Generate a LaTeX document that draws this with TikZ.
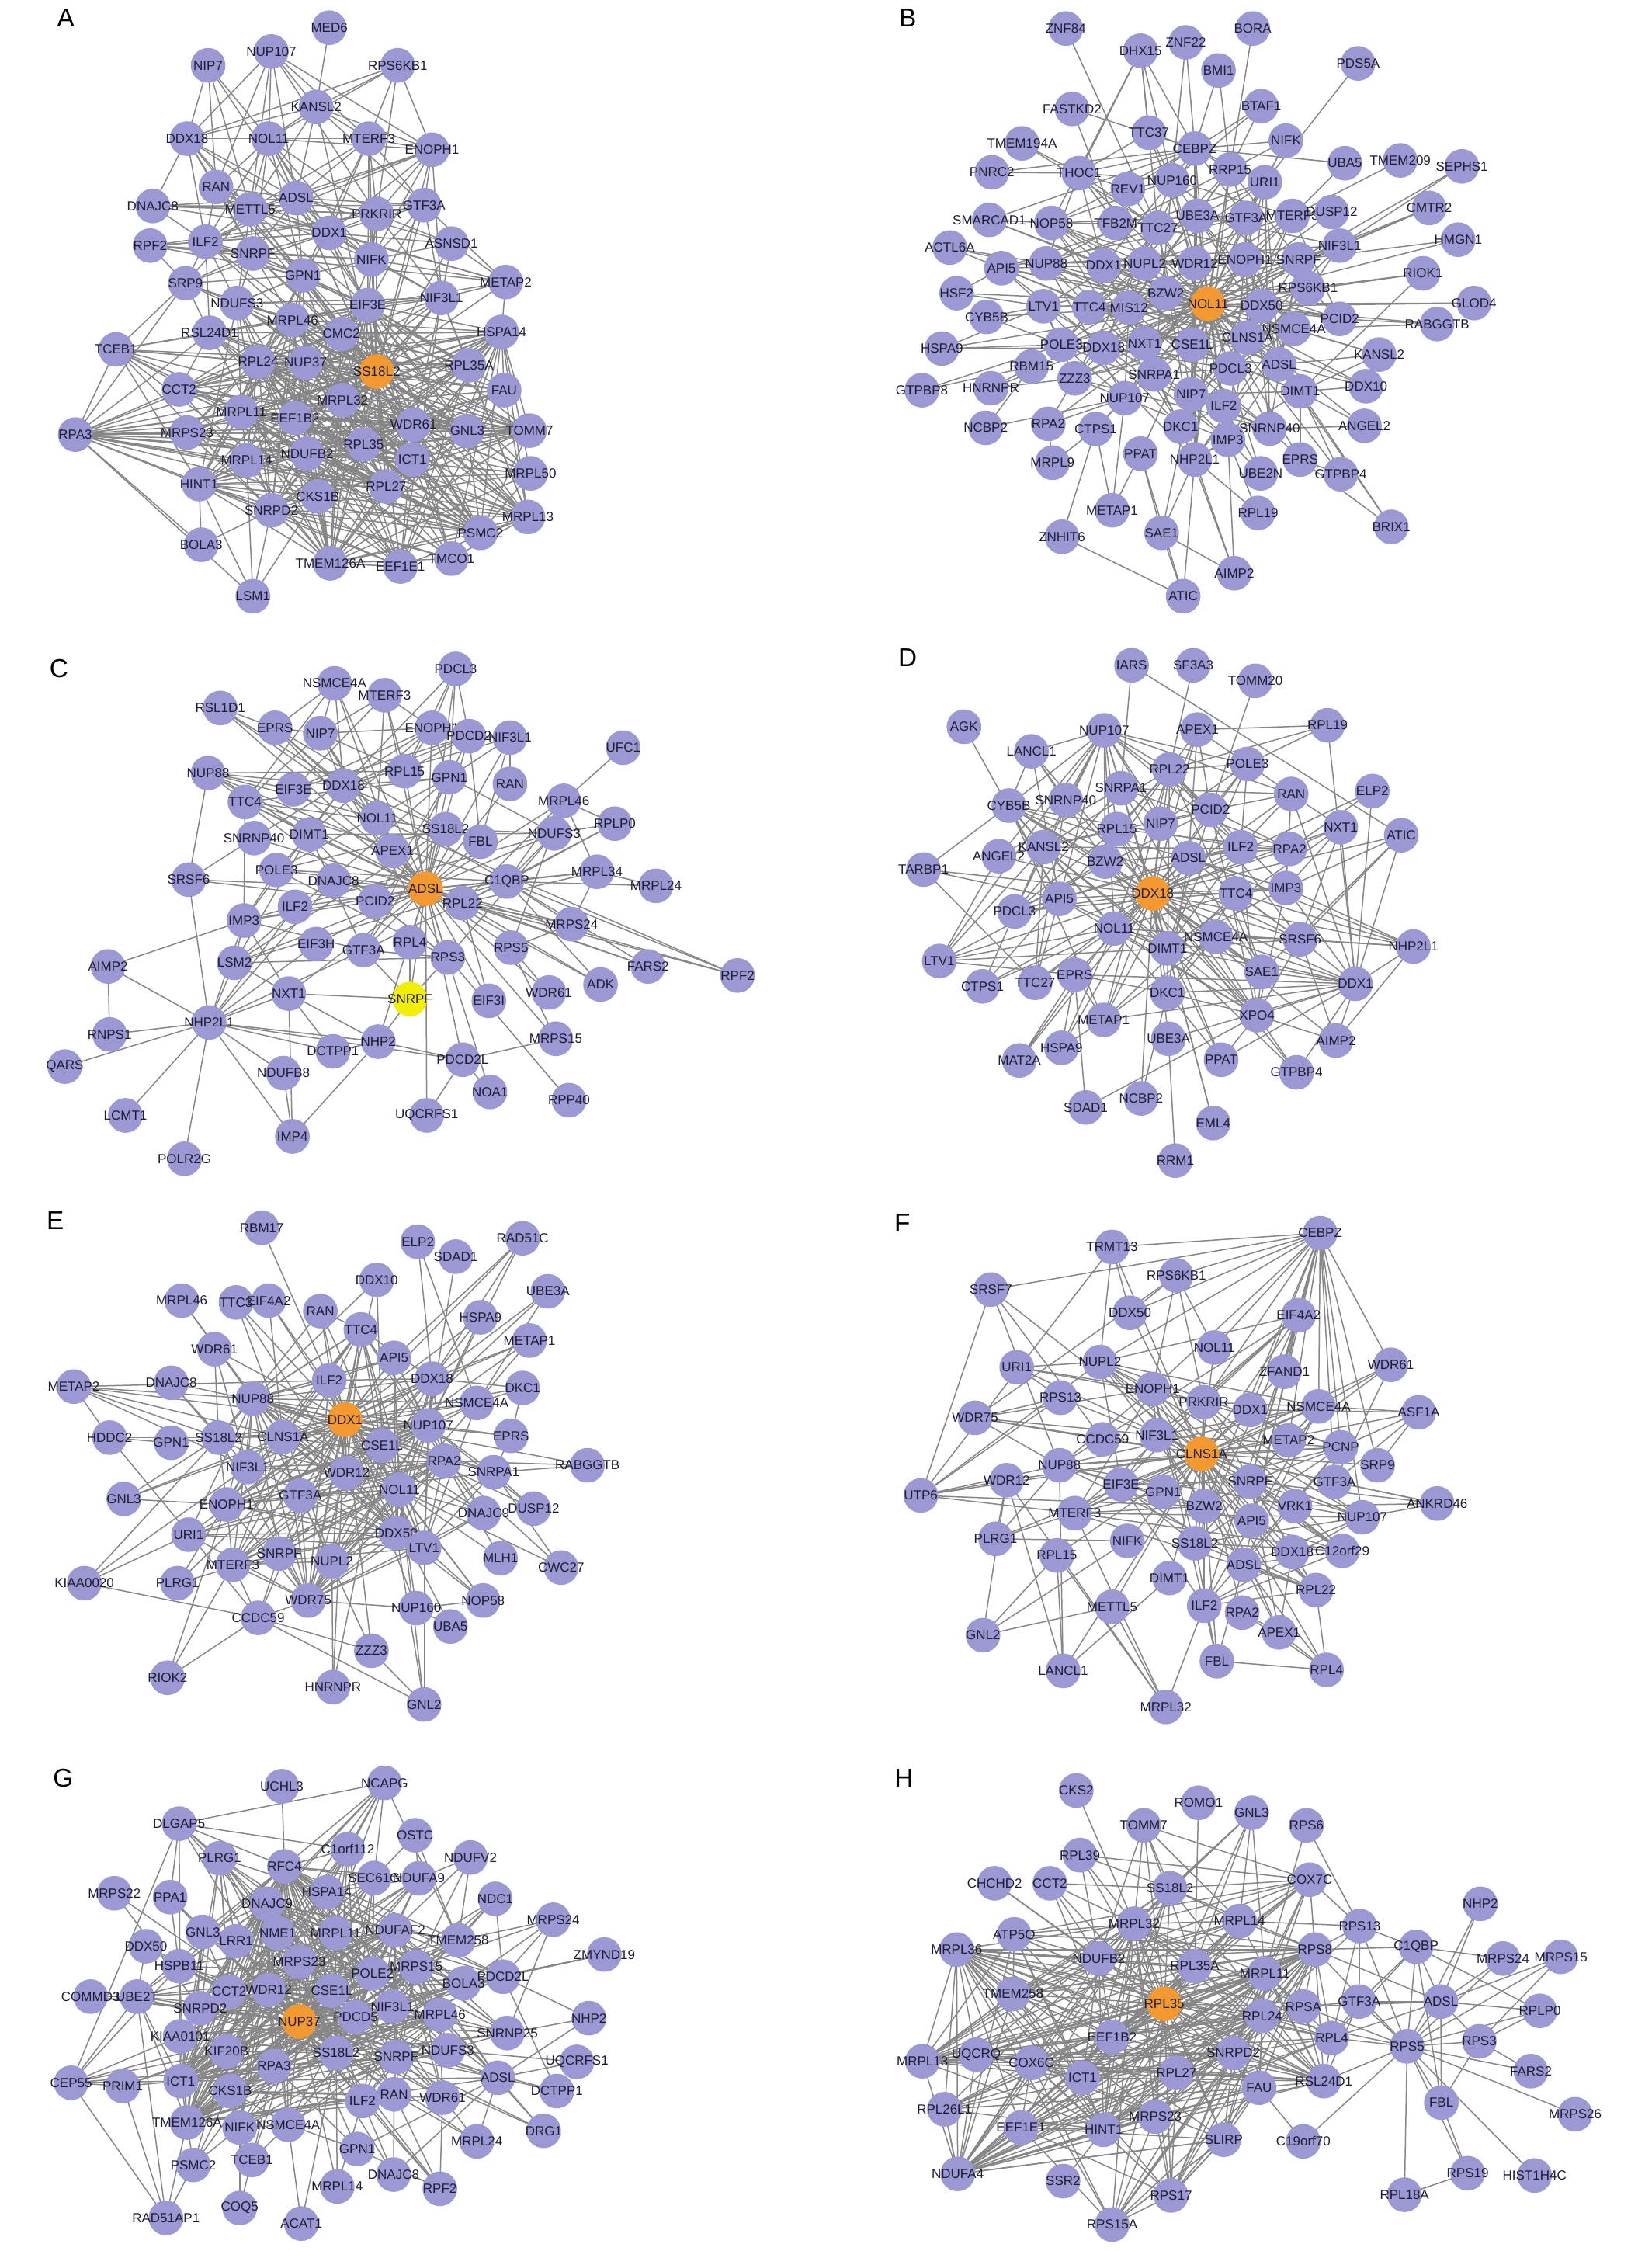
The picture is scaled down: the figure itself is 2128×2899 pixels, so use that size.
\documentclass[tikz,border=0pt]{standalone}
\usepackage{fontspec}
\setmainfont{Liberation Sans}
\definecolor{nodecol}{HTML}{9C98D4}
\definecolor{hubcol}{HTML}{F4992F}
\definecolor{ylw}{HTML}{F2EE05}
\definecolor{edgecol}{HTML}{868686}
\definecolor{txtcol}{HTML}{1E1E32}
\pgfdeclarelayer{bg}
\pgfsetlayers{bg,main}
\tikzset{
 gn/.style={circle, fill=nodecol, minimum size=13.4pt, inner sep=0pt},
 lbl/.style={font=\fontsize{5.1}{5.1}\selectfont, text=txtcol, inner sep=0pt},
 edge/.style={draw=edgecol, line width=0.45pt},
 panel/.style={font=\fontsize{10}{10}\selectfont, inner sep=0pt}
}
\newcommand\N[3][]{\node[gn,#1] (\pfx-#2) at (#3) {}; \node[lbl] at (\pfx-#2.center) {#2};}
\newcommand\E[2]{\edef\elist{#2}\foreach \q in \elist {\draw[edge] (\pfx-#1.center) -- (\pfx-\q.center);}}
\newcommand\M[3]{\edef\mlist{#1}%
 \foreach \ma [count=\mi] in \mlist {%
  \foreach \mb [count=\mj] in \mlist {%
   \ifnum\mj>\mi\relax
    \ifnum\numexpr(\mi*\mj*7+\mi*3+\mj+#3)-((\mi*\mj*7+\mi*3+\mj+#3)/#2)*#2\relax=0
     \draw[edge] (\pfx-\ma.center) -- (\pfx-\mb.center);
    \fi
   \fi}}}
\begin{document}
\begin{tikzpicture}[x=0.3pt,y=-0.3pt]
\begin{pgfonlayer}{bg}
\fill[white] (0,0) rectangle (2128,2899);
\end{pgfonlayer}
\useasboundingbox (0,0) rectangle (2128,2899);

%================ A
\def\pfx{A}
\begin{scope}[shift={(0,0)},xscale=0.6786,yscale=0.5102]
\node[panel] at (125,45) {A};
\N{MED6}{625,70}\N{NUP107}{515,130}\N{NIP7}{395,165}\N{RPS6KB1}{755,165}
\N{KANSL2}{600,270}\N{DDX18}{355,350}\N{NOL11}{510,350}\N{MTERF3}{700,350}
\N{ENOPH1}{820,378}\N{RAN}{410,472}\N{ADSL}{562,500}\N{DNAJC8}{290,520}
\N{METTL5}{475,528}\N{PRKRIR}{715,540}\N{GTF3A}{805,518}\N{DDX1}{625,588}
\N{ILF2}{390,610}\N{RPF2}{285,620}\N{SNRPF}{480,640}\N{ASNSD1}{857,615}
\N{NIFK}{705,655}\N{GPN1}{575,695}\N{SRP9}{352,715}\N{METAP2}{960,712}
\N{NDUFS3}{450,765}\N{EIF3E}{698,770}\N{NIF3L1}{838,752}\N{MRPL46}{555,808}
\N{CMC2}{648,843}\N{RSL24D1}{398,840}\N{HSPA14}{952,838}\N{TCEB1}{220,882}
\N{RPL24}{490,913}\N{NUP37}{580,915}\N{RPL35A}{890,922}
\N{CCT2}{340,983}\N{FAU}{957,985}\N{MRPL32}{650,1010}\N{MRPL11}{458,1040}
\N{EEF1B2}{560,1055}\N{RPA3}{143,1097}\N{MRPS23}{355,1092}\N{WDR61}{785,1072}
\N{GNL3}{887,1088}\N{TOMM7}{1005,1087}\N{RPL35}{690,1122}\N{NDUFB2}{583,1145}
\N{ICT1}{783,1160}\N{MRPL14}{468,1162}\N{MRPL50}{1007,1195}\N{HINT1}{378,1222}
\N{RPL27}{733,1228}\N{CKS1B}{603,1253}\N{SNRPD2}{515,1288}\N{MRPL13}{1002,1305}
\N{PSMC2}{912,1345}\N{BOLA3}{382,1375}\N{TMEM126A}{627,1422}\N{EEF1E1}{760,1430}
\N{TMCO1}{857,1410}\N{LSM1}{480,1505}
\N[fill=hubcol]{SS18L2}{715,938}
\def\coreA{RSL24D1,RPL24,NUP37,CMC2,MRPL46,CCT2,MRPL32,MRPL11,EEF1B2,MRPS23,WDR61,GNL3,RPL35,NDUFB2,ICT1,MRPL14,HINT1,RPL27,CKS1B,SNRPD2,TOMM7,MRPL50,MRPL13,PSMC2,TMCO1,EEF1E1,TMEM126A,FAU,RPL35A,HSPA14,TCEB1,NDUFS3,EIF3E,NIF3L1,GPN1}
\begin{pgfonlayer}{bg}
\E{SS18L2}{\coreA,KANSL2,DDX18,NOL11,MTERF3,ENOPH1,RAN,ADSL,METTL5,PRKRIR,GTF3A,DDX1,ILF2,SNRPF,ASNSD1,NIFK,SRP9,METAP2,RPA3}
\E{RPA3}{TCEB1,SRP9,CCT2,MRPS23,RSL24D1,RPL24,NUP37,MRPL11,EEF1B2,MRPL32,WDR61,GNL3,TOMM7,MRPL50,MRPL13,RPL35,NDUFB2,MRPL14,HINT1,SNRPD2,CKS1B,BOLA3,LSM1,RPL27,ICT1}
\E{MED6}{KANSL2}
\E{NUP107}{KANSL2,DDX18,NOL11,MTERF3,ENOPH1,RAN,ADSL,METTL5,PRKRIR}
\E{NIP7}{DDX18,RAN,NOL11,ADSL,METTL5}
\E{RPS6KB1}{KANSL2,DDX18,ENOPH1,MTERF3,PRKRIR,NOL11}
\E{KANSL2}{DDX18,NOL11,ADSL,MTERF3,ENOPH1,METTL5,GTF3A}
\E{DDX18}{NOL11,MTERF3,RAN,ILF2,DNAJC8,METTL5,ADSL,SNRPF,DDX1}
\E{NOL11}{MTERF3,ENOPH1,ADSL,METTL5,RAN,DDX1,PRKRIR,NIFK,EIF3E,GPN1,SNRPF,ILF2}
\E{MTERF3}{ENOPH1,ADSL,PRKRIR,DDX1,NIFK,EIF3E,GTF3A,METTL5,GPN1}
\E{ENOPH1}{GTF3A,PRKRIR,ADSL,DDX1,NIFK,NIF3L1,METTL5,ILF2}
\E{RAN}{ILF2,METTL5,ADSL,DDX1,SNRPF,GPN1}
\E{DNAJC8}{METTL5,ILF2,ADSL,DDX1,PRKRIR,GTF3A}
\E{ADSL}{METTL5,DDX1,PRKRIR,GTF3A,ILF2,SNRPF,GPN1,NIFK,EIF3E,ASNSD1}
\E{METTL5}{ILF2,SNRPF,DDX1,GPN1,PRKRIR,NIFK,EIF3E,SRP9,NDUFS3,METAP2}
\E{PRKRIR}{GTF3A,DDX1,NIFK,ASNSD1,EIF3E,NIF3L1,ILF2,RPF2}
\E{GTF3A}{DDX1,NIFK,NIF3L1,EIF3E,METAP2}
\E{DDX1}{ILF2,SNRPF,GPN1,NIFK,EIF3E,NIF3L1,METAP2,ASNSD1,RPF2,SRP9}
\E{ILF2}{RPF2,SNRPF,SRP9,GPN1,NDUFS3,MRPL46,EIF3E,RSL24D1}
\E{RPF2}{SRP9,SNRPF,GPN1,METAP2,NIFK}
\E{SNRPF}{GPN1,SRP9,NDUFS3,MRPL46,EIF3E,CMC2,NIFK}
\E{ASNSD1}{NIFK,METAP2,NIF3L1}
\E{NIFK}{GPN1,EIF3E,NIF3L1,METAP2,CMC2}
\E{GPN1}{EIF3E,NDUFS3,MRPL46,CMC2,SRP9}
\E{SRP9}{NDUFS3,RSL24D1,TCEB1,MRPL46}
\E{METAP2}{NIF3L1,EIF3E,HSPA14}
\E{EIF3E}{NIF3L1,CMC2,MRPL46}
\E{BOLA3}{HINT1,SNRPD2}
\E{LSM1}{HINT1,SNRPD2,MRPL14,CKS1B}
\M{\coreA}{3}{0}
\end{pgfonlayer}
\end{scope}

%================ B
\def\pfx{B}
\begin{scope}[shift={(1064,0)},xscale=0.6786,yscale=0.5102]
\node[panel] at (155,45) {B};
\N{ZNF84}{455,72}\N{BORA}{810,72}\N{DHX15}{597,128}\N{ZNF22}{683,107}
\N{BMI1}{745,178}\N{PDS5A}{1010,160}\N{FASTKD2}{467,275}\N{BTAF1}{826,268}
\N{TTC37}{613,335}\N{TMEM194A}{372,362}\N{NIFK}{873,355}\N{CEBPZ}{700,375}
\N{UBA5}{985,412}\N{TMEM209}{1090,405}\N{SEPHS1}{1207,420}\N{PNRC2}{315,435}
\N{THOC1}{480,437}\N{RRP15}{767,428}\N{URI1}{833,460}\N{NUP160}{657,455}
\N{REV1}{573,477}\N{SMARCAD1}{310,555}\N{NOP58}{428,563}\N{TFB2M}{550,563}
\N{TTC27}{630,575}\N{UBE3A}{705,545}\N{GTF3A}{797,550}\N{MTERF3}{885,545}
\N{DUSP12}{960,535}\N{CMTR2}{1145,525}\N{NIF3L1}{975,620}\N{HMGN1}{1200,605}
\N{ACTL6A}{235,625}\N{API5}{333,677}\N{NUP88}{418,665}\N{DDX1}{527,670}
\N{NUPL2}{605,665}\N{WDR12}{700,665}\N{ENOPH1}{795,655}\N{SNRPF}{897,655}
\N{RIOK1}{1133,690}\N{HSF2}{248,740}\N{RPS6KB1}{915,727}\N{BZW2}{645,740}
\N{LTV1}{413,773}\N{TTC4}{500,775}\N{MIS12}{575,777}
\N{DDX50}{827,772}\N{GLOD4}{1230,765}\N{CYB5B}{305,800}\N{PCID2}{975,805}
\N{RABGGTB}{1160,818}\N{NSMCE4A}{888,830}\N{CLNS1A}{800,852}\N{HSPA9}{220,880}
\N{POLE3}{447,870}\N{DDX18}{527,878}\N{NXT1}{605,867}\N{CSE1L}{695,870}
\N{KANSL2}{1050,895}\N{RBM15}{390,925}\N{ADSL}{860,920}\N{ZZZ3}{472,955}
\N{SNRPA1}{623,945}\N{PDCL3}{768,930}\N{GTPBP8}{182,985}\N{HNRNPR}{313,980}
\N{DDX10}{1025,975}\N{DIMT1}{900,988}\N{NUP107}{567,1005}\N{NIP7}{693,995}
\N{ILF2}{755,1025}\N{NCBP2}{303,1080}\N{RPA2}{422,1070}\N{CTPS1}{512,1083}
\N{DKC1}{673,1077}\N{IMP3}{763,1110}\N{SNRNP40}{842,1082}\N{ANGEL2}{1022,1075}
\N{PPAT}{597,1145}\N{NHP2L1}{700,1160}\N{MRPL9}{430,1168}\N{EPRS}{900,1160}
\N{UBE2N}{825,1195}\N{GTPBP4}{977,1197}\N{METAP1}{543,1288}\N{RPL19}{820,1295}
\N{BRIX1}{1073,1330}\N{SAE1}{637,1345}\N{ZNHIT6}{448,1355}\N{AIMP2}{775,1447}
\N{ATIC}{678,1505}
\N[fill=hubcol]{NOL11}{725,767}
\def\coreB{NOP58,TFB2M,TTC27,UBE3A,GTF3A,MTERF3,DUSP12,NIF3L1,API5,NUP88,DDX1,NUPL2,WDR12,ENOPH1,SNRPF,RPS6KB1,BZW2,LTV1,TTC4,MIS12,DDX50,PCID2,NSMCE4A,CLNS1A,POLE3,DDX18,NXT1,CSE1L,ADSL,ZZZ3,SNRPA1,PDCL3,DIMT1,NUP107,NIP7,ILF2,DKC1,IMP3,SNRNP40,NHP2L1,REV1,NUP160,URI1,RRP15}
\begin{pgfonlayer}{bg}
\E{NOL11}{\coreB,CEBPZ,GLOD4,RABGGTB,KANSL2,DDX10,ANGEL2,EPRS,GTPBP4,UBE2N,PPAT,CTPS1,RPA2,RBM15,HNRNPR,HSPA9,CYB5B,HSF2,ACTL6A,SMARCAD1,THOC1,RIOK1,HMGN1,CMTR2}
\E{ZNF84}{TTC27}
\E{DHX15}{THOC1,TTC27,NUP160,TTC37,CEBPZ,NOP58}
\E{ZNF22}{CEBPZ,NUP160}
\E{BORA}{RRP15}
\E{BMI1}{CEBPZ,RRP15}
\E{PDS5A}{URI1}
\E{FASTKD2}{TFB2M,CEBPZ}
\E{BTAF1}{CEBPZ,NUP160,RRP15}
\E{TTC37}{CEBPZ,THOC1,NUP160,WDR12}
\E{TMEM194A}{THOC1,TTC27}
\E{NIFK}{CEBPZ,RRP15,URI1,GTF3A}
\E{CEBPZ}{PNRC2,THOC1,NUP160,RRP15,REV1,URI1,UBA5,TTC27,UBE3A,GTF3A,WDR12,NOP58}
\E{UBA5}{MTERF3}
\E{TMEM209}{MTERF3}
\E{SEPHS1}{NIF3L1,SNRPF}
\E{PNRC2}{THOC1}
\E{THOC1}{REV1,NUP160,TFB2M,TTC27,NUPL2,DDX1,NUP88}
\E{SMARCAD1}{NOP58,DDX1,CEBPZ}
\E{CMTR2}{NIF3L1,SNRPF}
\E{HMGN1}{SNRPF}
\E{RIOK1}{RPS6KB1,DIMT1}
\E{GLOD4}{DDX50}
\E{RABGGTB}{PCID2,NSMCE4A}
\E{ACTL6A}{API5,NUP88}
\E{HSF2}{LTV1,API5}
\E{CYB5B}{LTV1,POLE3}
\E{HSPA9}{POLE3,LTV1,DDX18}
\E{GTPBP8}{RBM15,POLE3}
\E{HNRNPR}{ZZZ3,RBM15}
\E{NCBP2}{RBM15,NUP107}
\E{RPA2}{ZZZ3,NUP107,MRPL9}
\E{MRPL9}{CTPS1}
\E{CTPS1}{NUP107,METAP1}
\E{KANSL2}{DIMT1,ADSL,NSMCE4A}
\E{DDX10}{DIMT1,ADSL,CLNS1A}
\E{ANGEL2}{DIMT1,SNRNP40}
\E{GTPBP4}{EPRS,DIMT1}
\E{BRIX1}{DIMT1,ADSL,EPRS}
\E{UBE2N}{IMP3,ILF2}
\E{RPL19}{NHP2L1,IMP3}
\E{METAP1}{NUP107,PPAT}
\E{ZNHIT6}{ATIC,CTPS1}
\E{SAE1}{PPAT,ATIC,AIMP2,NIP7,NHP2L1}
\E{ATIC}{NHP2L1,PPAT}
\E{AIMP2}{NHP2L1,IMP3,DKC1}
\E{EPRS}{DIMT1,SNRNP40}
\M{\coreB}{5}{1}
\end{pgfonlayer}
\end{scope}

%================ C
\def\pfx{C}
\begin{scope}[shift={(0,800)},xscale=0.6786,yscale=0.4656]
\node[panel] at (112,130) {C};
\N{PDCL3}{865,132}\N{NSMCE4A}{635,172}\N{MTERF3}{730,205}\N{RSL1D1}{418,240}
\N{EPRS}{522,295}\N{NIP7}{608,310}\N{ENOPH1}{820,295}\N{PDCD2}{890,318}
\N{NIF3L1}{968,322}\N{UFC1}{1183,350}\N{NUP88}{395,420}\N{EIF3E}{557,465}
\N{DDX18}{652,455}\N{RPL15}{768,415}\N{GPN1}{853,432}\N{RAN}{968,450}
\N{TTC4}{465,500}\N{MRPL46}{1070,497}\N{NOL11}{716,545}\N{SS18L2}{846,575}
\N{FBL}{912,610}\N{NDUFS3}{1052,587}\N{RPLP0}{1167,560}\N{SNRNP40}{482,600}
\N{DIMT1}{587,590}\N{APEX1}{745,635}\N{SRSF6}{358,715}\N{POLE3}{525,688}
\N{DNAJC8}{633,718}\N{C1QBP}{962,720}\N{MRPL34}{1133,693}
\N{MRPL24}{1245,732}\N{ILF2}{560,790}\N{PCID2}{712,775}\N{RPL22}{878,780}
\N{IMP3}{463,828}\N{MRPS24}{1085,838}\N{EIF3H}{600,893}\N{GTF3A}{690,910}
\N{RPL4}{778,888}\N{RPS3}{850,930}\N{RPS5}{970,903}\N{LSM2}{445,945}
\N{AIMP2}{205,955}\N{FARS2}{1230,955}\N{ADK}{1140,1005}\N{RPF2}{1400,980}
\N{NXT1}{548,1030}\N{EIF3I}{928,1050}\N{WDR61}{1042,1027}
\N{NHP2L1}{397,1110}\N{RNPS1}{208,1143}\N{NHP2}{718,1163}\N{DCTPP1}{632,1190}
\N{MRPS15}{1055,1155}\N{PDCD2L}{878,1213}\N{QARS}{123,1232}\N{NDUFB8}{538,1250}
\N{NOA1}{930,1302}\N{RPP40}{1080,1325}\N{LCMT1}{238,1367}\N{UQCRFS1}{810,1367}
\N{IMP4}{555,1425}\N{POLR2G}{350,1487}
\N[fill=ylw]{SNRPF}{778,1045}
\N[fill=hubcol]{ADSL}{808,740}
\def\coreC{EIF3E,DDX18,RPL15,GPN1,RAN,TTC4,NOL11,SS18L2,FBL,NDUFS3,SNRNP40,DIMT1,APEX1,POLE3,DNAJC8,C1QBP,ILF2,PCID2,RPL22,IMP3,EIF3H,GTF3A,RPL4,RPS3,RPS5,LSM2}
\begin{pgfonlayer}{bg}
\E{ADSL}{\coreC,EPRS,NIP7,ENOPH1,PDCD2,NIF3L1,NUP88,MRPL46,MRPL34,MRPS24,FARS2,ADK,RPF2,EIF3I,WDR61,MRPS15,PDCD2L,NHP2,SNRPF,NXT1,SRSF6,PDCL3,MTERF3,NSMCE4A,RSL1D1,UQCRFS1,NOA1}
\E{PDCL3}{ENOPH1,RPL15,GPN1,DDX18,PDCD2}
\E{NSMCE4A}{EPRS,NIP7,TTC4,DDX18,APEX1}
\E{MTERF3}{NIP7,RPL15,NOL11,ENOPH1,EIF3E}
\E{RSL1D1}{DDX18,NOL11,EPRS}
\E{EPRS}{NIP7,NOL11,DDX18,ENOPH1,SS18L2}
\E{NIP7}{DDX18,NOL11,ENOPH1,RPL15,TTC4,APEX1}
\E{ENOPH1}{RPL15,GPN1,PDCD2,DIMT1,EIF3E,SNRNP40}
\E{PDCD2}{NIF3L1,GPN1,RPL15,DDX18,EIF3E,FBL}
\E{NIF3L1}{RAN,GPN1,DDX18,FBL}
\E{UFC1}{MRPL46}
\E{NUP88}{TTC4,EIF3E,DDX18,SRSF6,NOL11,APEX1,DIMT1,RPL15}
\E{RPLP0}{MRPL46,C1QBP,RPL22,NDUFS3}
\E{MRPL46}{NDUFS3,C1QBP,MRPL34,RPL22,RPS5}
\E{MRPL34}{C1QBP,MRPS24,RPL22}
\E{MRPL24}{C1QBP,MRPL34}
\E{MRPS24}{C1QBP,RPL22,RPS5}
\E{FARS2}{C1QBP,RPL22}
\E{ADK}{C1QBP,RPL22}
\E{RPF2}{C1QBP,RPL22,NOL11}
\E{SRSF6}{SNRNP40,NHP2L1,PCID2}
\E{AIMP2}{IMP3,NHP2L1,RNPS1}
\E{NHP2L1}{RNPS1,QARS,LCMT1,POLR2G,IMP3,LSM2,NXT1,EIF3H,GTF3A,DCTPP1,NDUFB8,IMP4,NHP2,PDCD2L,DNAJC8,ILF2}
\E{IMP4}{NDUFB8,NHP2,NXT1}
\E{NXT1}{SNRPF,NHP2,LSM2,DCTPP1,IMP3}
\E{NHP2}{PDCD2L,SNRPF,DCTPP1}
\E{PDCD2L}{MRPS15,NOA1,UQCRFS1}
\E{RPP40}{RPS3}
\E{MRPS15}{RPS5}
\E{EIF3I}{RPL22}
\E{WDR61}{RPS5}
\E{SNRPF}{RPL4,GTF3A,RPS3}
\M{\coreC}{4}{2}
\end{pgfonlayer}
\end{scope}

%================ D
\def\pfx{D}
\begin{scope}[shift={(1064,800)},xscale=0.6786,yscale=0.4656]
\node[panel] at (155,100) {D};
\N{IARS}{580,122}\N{SF3A3}{697,122}\N{TOMM20}{815,165}\N{AGK}{262,292}
\N{NUP107}{528,302}\N{APEX1}{705,300}\N{RPL19}{952,288}\N{LANCL1}{390,360}
\N{POLE3}{800,395}\N{RPL22}{652,410}\N{RAN}{883,478}\N{ELP2}{1037,470}
\N{CYB5B}{347,510}\N{SNRNP40}{455,495}\N{SNRPA1}{560,462}\N{PCID2}{730,522}
\N{NIP7}{635,560}\N{RPL15}{552,575}\N{NXT1}{977,570}\N{ATIC}{1092,592}
\N{KANSL2}{413,625}\N{ANGEL2}{328,650}\N{BZW2}{530,665}\N{ADSL}{688,655}
\N{ILF2}{787,625}\N{RPA2}{880,630}\N{TARBP1}{185,687}\N{API5}{443,768}
\N{TTC4}{778,753}\N{IMP3}{873,738}\N{PDCL3}{358,803}
\N{NOL11}{547,850}\N{NSMCE4A}{740,873}\N{SRSF6}{900,880}\N{NHP2L1}{1115,900}
\N{DIMT1}{648,905}\N{LTV1}{215,940}\N{SAE1}{827,970}\N{EPRS}{472,978}
\N{TTC27}{397,1000}\N{CTPS1}{297,1010}\N{DDX1}{1005,1003}\N{DKC1}{648,1028}
\N{XPO4}{818,1090}\N{METAP1}{527,1103}\N{UBE3A}{650,1155}\N{HSPA9}{447,1180}
\N{AIMP2}{968,1160}\N{MAT2A}{367,1215}\N{PPAT}{750,1213}\N{GTPBP4}{893,1248}
\N{NCBP2}{598,1320}\N{SDAD1}{493,1345}\N{EML4}{735,1388}\N{RRM1}{663,1492}
\N[fill=hubcol]{DDX18}{620,753}
\def\coreD{SNRNP40,SNRPA1,RPL22,PCID2,NIP7,RPL15,CYB5B,KANSL2,ANGEL2,BZW2,ADSL,ILF2,RPA2,API5,TTC4,IMP3,PDCL3,NOL11,NSMCE4A,SRSF6,DIMT1,SAE1,EPRS,DKC1,XPO4,METAP1,UBE3A}
\begin{pgfonlayer}{bg}
\E{DDX18}{\coreD,NUP107,APEX1,LANCL1,POLE3,RAN,TARBP1,LTV1,CTPS1,TTC27,NHP2L1,DDX1,AIMP2,GTPBP4,PPAT,HSPA9,NCBP2,EML4,MAT2A,NXT1,ATIC,ELP2}
\E{IARS}{SNRPA1,ATIC}
\E{SF3A3}{RPL22}
\E{TOMM20}{PCID2}
\E{AGK}{API5}
\E{NUP107}{LANCL1,CYB5B,SNRNP40,SNRPA1,RPL15,NIP7,BZW2,KANSL2,ANGEL2,RPL22,PCID2,POLE3,RAN,ADSL,API5,NOL11,LTV1,PDCL3,ILF2}
\E{APEX1}{RPL19,NIP7,PCID2,RPL22,ADSL,POLE3}
\E{RPL19}{POLE3,DDX1,RPL22}
\E{LANCL1}{SNRNP40,CYB5B,API5,BZW2}
\E{POLE3}{RPL22,PCID2,RAN,NIP7,ILF2,DIMT1}
\E{RAN}{PCID2,ILF2,NXT1,IMP3,DDX1,SNRPA1}
\E{ELP2}{RPA2,DDX1}
\E{NXT1}{RPA2,IMP3,SRSF6,DIMT1,DDX1}
\E{ATIC}{IMP3,SRSF6,DDX1,SAE1}
\E{TARBP1}{CYB5B,API5,TTC27}
\E{LTV1}{ANGEL2,API5,NOL11,EPRS,DIMT1,KANSL2}
\E{CTPS1}{KANSL2,API5,NOL11}
\E{TTC27}{API5,KANSL2,NOL11,SNRNP40}
\E{NHP2L1}{DDX1,SRSF6,IMP3,AIMP2,TTC4,ADSL,NOL11}
\E{DDX1}{SAE1,XPO4,SRSF6,IMP3,NSMCE4A,DIMT1,DKC1,METAP1,AIMP2,GTPBP4,PPAT,UBE3A,EPRS,NOL11}
\E{AIMP2}{SRSF6,XPO4}
\E{GTPBP4}{XPO4,DIMT1}
\E{PPAT}{XPO4,DIMT1,DKC1}
\E{MAT2A}{EPRS,NOL11}
\E{HSPA9}{METAP1,EPRS,NOL11}
\E{SDAD1}{XPO4,EPRS}
\E{NCBP2}{DKC1}
\E{EML4}{DIMT1}
\E{RRM1}{UBE3A}
\M{\coreD}{4}{3}
\end{pgfonlayer}
\end{scope}

%================ E
\def\pfx{E}
\begin{scope}[shift={(0,1530)},xscale=0.6786,yscale=0.4464]
\node[panel] at (105,95) {E};
\N{RBM17}{497,115}\N{ELP2}{793,155}\N{RAD51C}{992,145}\N{SDAD1}{865,198}
\N{DDX10}{715,265}\N{UBE3A}{1040,298}\N{MRPL46}{345,325}\N{TTC3}{448,330}
\N{EIF4A2}{510,325}\N{RAN}{608,355}\N{TTC4}{685,408}\N{HSPA9}{912,373}
\N{METAP1}{1005,440}\N{WDR61}{407,465}\N{API5}{748,490}\N{METAP2}{140,573}
\N{DNAJC8}{325,562}\N{ILF2}{625,555}\N{DDX18}{820,550}\N{DKC1}{992,577}
\N{NUP88}{480,608}\N{NSMCE4A}{905,620}\N{NUP107}{813,685}
\N{HDDC2}{208,720}\N{GPN1}{325,735}\N{SS18L2}{415,720}\N{CLNS1A}{537,718}
\N{CSE1L}{725,743}\N{EPRS}{970,715}\N{RPA2}{843,787}\N{RABGGTB}{1115,800}
\N{NIF3L1}{470,805}\N{WDR12}{658,822}\N{SNRPA1}{937,820}\N{NOL11}{758,870}
\N{GNL3}{235,897}\N{GTF3A}{570,887}\N{ENOPH1}{430,913}\N{DNAJC9}{918,938}
\N{DUSP12}{1013,925}\N{DDX50}{752,995}\N{URI1}{358,1000}\N{LTV1}{805,1038}
\N{MLH1}{950,1068}\N{CWC27}{1065,1095}\N{SNRPF}{530,1055}\N{MTERF3}{442,1087}
\N{NUPL2}{630,1077}\N{KIAA0020}{160,1140}\N{PLRG1}{337,1140}\N{WDR75}{585,1190}
\N{NUP160}{790,1212}\N{NOP58}{917,1190}\N{UBA5}{855,1265}\N{CCDC59}{490,1240}
\N{ZZZ3}{705,1335}\N{RIOK2}{318,1413}\N{HNRNPR}{632,1440}\N{GNL2}{805,1490}
\N[fill=hubcol]{DDX1}{655,668}
\def\coreE{NUP88,ILF2,DDX18,NSMCE4A,NUP107,SS18L2,CLNS1A,CSE1L,RPA2,NIF3L1,WDR12,SNRPA1,NOL11,GTF3A,ENOPH1,DNAJC9,DDX50,URI1,LTV1,SNRPF,MTERF3,NUPL2,WDR75,API5,TTC4}
\begin{pgfonlayer}{bg}
\E{DDX1}{\coreE,DDX10,TTC3,EIF4A2,RAN,HSPA9,METAP1,WDR61,METAP2,DNAJC8,DKC1,EPRS,RABGGTB,GNL3,DUSP12,PLRG1,HNRNPR,ZZZ3,UBA5,NOP58,NUP160,CCDC59,RAD51C}
\E{RBM17}{ILF2}
\E{ELP2}{DDX18,NSMCE4A}
\E{RAD51C}{API5,DDX18,NUP107}
\E{SDAD1}{NUP107}
\E{DDX10}{CSE1L,NUP88}
\E{UBE3A}{DDX18,NSMCE4A,CSE1L}
\E{MRPL46}{NUP88,CLNS1A}
\E{TTC3}{WDR12,NUPL2}
\E{EIF4A2}{CLNS1A,NOL11}
\E{RAN}{TTC4,CSE1L,SS18L2,WDR12}
\E{TTC4}{NUP88,NIF3L1}
\E{HSPA9}{DDX18,NUP107}
\E{METAP1}{NSMCE4A,DDX18,CSE1L}
\E{WDR61}{SS18L2,NIF3L1}
\E{API5}{NUP88,ILF2}
\E{METAP2}{NUP88,SS18L2,CLNS1A,HDDC2,NIF3L1,ILF2}
\E{DNAJC8}{SS18L2,NIF3L1}
\E{HDDC2}{GPN1,CCDC59,SS18L2}
\E{GPN1}{SS18L2}
\E{DKC1}{DDX18,NSMCE4A,EPRS}
\E{EPRS}{NUP107,SNRPA1}
\E{RABGGTB}{SNRPA1,RPA2}
\E{GNL3}{SS18L2,CLNS1A,ENOPH1}
\E{DUSP12}{SNRPA1,NUP107}
\E{CWC27}{SNRPA1,NOL11,RPA2}
\E{MLH1}{NOL11,RPA2}
\E{KIAA0020}{CCDC59,URI1,NIF3L1,SS18L2}
\E{PLRG1}{SNRPF,NIF3L1}
\E{RIOK2}{CCDC59,ENOPH1,MTERF3}
\E{HNRNPR}{NUPL2,CSE1L}
\E{GNL2}{CCDC59,LTV1,NOL11,DDX50,ZZZ3}
\E{ZZZ3}{CCDC59,GTF3A}
\E{UBA5}{NUP160}
\E{NOP58}{NUP160,NOL11,DDX50,LTV1}
\E{NUP160}{WDR75,NOL11}
\E{CCDC59}{WDR75,SNRPF,MTERF3}
\M{\coreE}{4}{1}
\end{pgfonlayer}
\end{scope}

%================ F
\def\pfx{F}
\begin{scope}[shift={(1064,1530)},xscale=0.6786,yscale=0.4464]
\node[panel] at (145,100) {F};
\N{CEBPZ}{938,130}\N{TRMT13}{543,170}\N{RPS6KB1}{665,252}\N{SRSF7}{313,293}
\N{DDX50}{577,360}\N{EIF4A2}{897,367}\N{NOL11}{737,460}\N{URI1}{362,517}
\N{NUPL2}{520,502}\N{ZFAND1}{870,530}\N{WDR61}{1072,510}\N{ENOPH1}{620,580}
\N{RPS13}{445,605}\N{PRKRIR}{717,618}\N{DDX1}{805,640}\N{NSMCE4A}{935,630}
\N{ASF1A}{1125,647}\N{WDR75}{283,663}\N{CCDC59}{525,725}\N{NIF3L1}{628,713}
\N{METAP2}{878,728}\N{PCNP}{977,748}\N{SRP9}{1047,800}
\N{NUP88}{443,800}\N{WDR12}{343,843}\N{EIF3E}{560,855}\N{GPN1}{640,877}
\N{SNRPF}{805,847}\N{GTF3A}{965,848}\N{UTP6}{180,887}\N{ANKRD46}{1160,910}
\N{BZW2}{718,918}\N{VRK1}{890,918}\N{MTERF3}{472,938}\N{API5}{808,960}
\N{NUP107}{1018,950}\N{PLRG1}{322,1012}\N{NIFK}{572,1018}\N{SS18L2}{700,1025}
\N{DDX18}{885,1050}\N{C12orf29}{980,1047}\N{RPL15}{438,1060}\N{ADSL}{793,1087}
\N{DIMT1}{652,1125}\N{RPL22}{930,1160}\N{METTL5}{543,1208}\N{ILF2}{718,1205}
\N{RPA2}{790,1225}\N{APEX1}{860,1282}\N{GNL2}{298,1290}\N{FBL}{742,1365}
\N{LANCL1}{450,1393}\N{RPL4}{950,1390}\N{MRPL32}{645,1497}
\N[fill=hubcol]{CLNS1A}{713,767}
\def\coreF{DDX50,EIF4A2,NOL11,NUPL2,ZFAND1,ENOPH1,RPS13,PRKRIR,DDX1,NSMCE4A,CCDC59,NIF3L1,METAP2,PCNP,SRP9,NUP88,WDR12,EIF3E,GPN1,SNRPF,GTF3A,BZW2,VRK1,MTERF3,API5,NUP107,NIFK,SS18L2,DDX18,C12orf29,RPL15,ADSL,DIMT1,RPL22,METTL5,ILF2,RPA2}
\begin{pgfonlayer}{bg}
\E{CLNS1A}{\coreF,TRMT13,SRSF7,URI1,WDR61,ASF1A,WDR75,UTP6,ANKRD46,PLRG1,FBL,APEX1,RPL4,LANCL1}
\E{CEBPZ}{TRMT13,SRSF7,RPS6KB1,DDX50,EIF4A2,NOL11,ZFAND1,NSMCE4A,DDX1,PRKRIR,ENOPH1,NUPL2,METAP2,PCNP,GTF3A,SRP9,NUP107,SNRPF,WDR61,BZW2,API5}
\E{TRMT13}{DDX50,NUPL2,UTP6}
\E{SRSF7}{UTP6,CCDC59,NUP88}
\E{RPS6KB1}{DDX50,NOL11,ENOPH1,PRKRIR,WDR75}
\E{URI1}{NUPL2,ENOPH1,RPS13,PRKRIR}
\E{WDR61}{NSMCE4A,GTF3A,METAP2}
\E{ASF1A}{NSMCE4A,DDX1,GTF3A,PCNP,SRP9}
\E{WDR75}{RPS13,NUP88,CCDC59,NIF3L1,ENOPH1}
\E{UTP6}{WDR12,NUP88,MTERF3,RPS13,NUPL2,BZW2}
\E{ANKRD46}{GTF3A,NUP107,VRK1,SNRPF}
\E{PLRG1}{WDR12,MTERF3,NUP88,NIFK}
\E{GNL2}{RPL15,METTL5,WDR12,NIFK}
\E{LANCL1}{RPL15,DIMT1,WDR12,NUP88}
\E{MRPL32}{RPL15,METTL5,ILF2,MTERF3,WDR12}
\E{FBL}{RPL4,ILF2,ADSL,SS18L2}
\E{RPL4}{APEX1,RPA2,RPL22,ADSL}
\E{APEX1}{RPA2,ADSL,DDX18,SNRPF}
\M{\coreF}{4}{2}
\end{pgfonlayer}
\end{scope}

%================ G
\def\pfx{G}
\begin{scope}[shift={(0,2230)},xscale=0.6786,yscale=0.4267]
\node[panel] at (120,140) {G};
\N{UCHL3}{535,165}\N{NCAPG}{730,155}\N{DLGAP5}{340,278}\N{OSTC}{788,313}
\N{C1orf112}{660,355}\N{NDUFV2}{893,380}\N{PLRG1}{417,382}\N{RFC4}{540,407}
\N{SEC61G}{710,442}\N{NDUFA9}{795,443}\N{HSPA14}{620,485}\N{NDC1}{940,505}
\N{MRPS22}{217,488}\N{PPA1}{323,500}\N{DNAJC9}{507,520}\N{GNL3}{385,605}
\N{LRR1}{448,633}\N{NME1}{527,608}\N{MRPL11}{637,608}\N{NDUFAF2}{750,600}
\N{TMEM258}{870,630}\N{MRPS24}{1050,568}\N{DDX50}{277,648}\N{ZMYND19}{1147,673}
\N{HSPB11}{340,708}\N{MRPS23}{568,695}\N{POLE2}{707,730}\N{MRPS15}{790,710}
\N{BOLA3}{880,760}\N{PDCD2L}{955,740}\N{COMMD3}{172,800}\N{UBE2T}{260,800}
\N{CCT2}{435,785}\N{WDR12}{510,780}\N{CSE1L}{630,782}\N{NIF3L1}{745,830}
\N{SNRPD2}{380,835}\N{PDCD5}{675,862}\N{MRPL46}{835,855}\N{NHP2}{1118,865}
\N{KIAA0101}{342,920}\N{SNRNP25}{963,910}\N{KIF20B}{430,965}
\N{SS18L2}{638,970}\N{SNRPF}{752,982}\N{NDUFS3}{850,962}\N{UQCRFS1}{1095,997}
\N{RPA3}{520,1010}\N{ADSL}{945,1045}\N{CEP55}{135,1060}\N{PRIM1}{233,1070}
\N{ICT1}{343,1055}\N{CKS1B}{437,1085}\N{DCTPP1}{1057,1085}\N{ILF2}{688,1115}
\N{RAN}{748,1095}\N{WDR61}{840,1105}\N{TMEM126A}{355,1180}\N{NIFK}{455,1195}
\N{NSMCE4A}{547,1187}\N{DRG1}{1032,1205}\N{MRPL24}{905,1237}\N{GPN1}{678,1260}
\N{PSMC2}{367,1308}\N{TCEB1}{478,1293}\N{DNAJC8}{747,1337}\N{RPF2}{835,1380}
\N{MRPL14}{640,1373}\N{COQ5}{455,1438}\N{RAD51AP1}{315,1468}\N{ACAT1}{572,1485}
\N[fill=hubcol]{NUP37}{568,875}
\def\coreG{PLRG1,RFC4,C1orf112,SEC61G,NDUFA9,HSPA14,DNAJC9,GNL3,LRR1,NME1,MRPL11,NDUFAF2,TMEM258,HSPB11,MRPS23,POLE2,MRPS15,BOLA3,PDCD2L,UBE2T,CCT2,WDR12,CSE1L,NIF3L1,SNRPD2,PDCD5,MRPL46,KIAA0101,SNRNP25,KIF20B,SS18L2,SNRPF,NDUFS3,RPA3,ADSL,ICT1,CKS1B,ILF2,RAN,WDR61,TMEM126A,NIFK,NSMCE4A}
\begin{pgfonlayer}{bg}
\E{NUP37}{\coreG,DLGAP5,NCAPG,PPA1,DDX50,COMMD3,CEP55,PRIM1,PSMC2,TCEB1,MRPL14,DNAJC8,GPN1,NDUFV2,NDC1,DRG1,DCTPP1,MRPL24,RPF2,MRPS22}
\E{NCAPG}{DLGAP5,RFC4,HSPA14,DNAJC9,C1orf112,SEC61G,TMEM258,NME1,LRR1}
\E{UCHL3}{RFC4}
\E{DLGAP5}{PLRG1,RFC4,C1orf112,PPA1,HSPB11,CEP55,DNAJC9,NME1,KIAA0101}
\E{OSTC}{SEC61G,NDUFA9,TMEM258}
\E{NDUFV2}{NDUFA9,TMEM258,MRPS15}
\E{PLRG1}{LRR1,NME1,CCT2}
\E{MRPS22}{SNRPD2}
\E{PPA1}{GNL3,HSPB11}
\E{NDC1}{TMEM258,PDCD2L,MRPS15,NIF3L1}
\E{MRPS24}{TMEM258,BOLA3,PDCD2L,MRPS15,SNRNP25}
\E{ZMYND19}{PDCD2L,BOLA3}
\E{DDX50}{HSPB11,UBE2T}
\E{COMMD3}{UBE2T,SNRPD2}
\E{NHP2}{PDCD2L,ADSL,SNRNP25}
\E{UQCRFS1}{ADSL,NDUFS3}
\E{DCTPP1}{ADSL,PDCD2L}
\E{DRG1}{ADSL,SNRPF,MRPL46}
\E{CEP55}{UBE2T,KIAA0101,HSPB11,KIF20B,RPA3,RAD51AP1,PRIM1,ICT1}
\E{PRIM1}{RAD51AP1,ICT1,KIF20B}
\E{RAD51AP1}{PSMC2,UBE2T,TMEM126A}
\E{COQ5}{TCEB1,NIFK}
\E{ACAT1}{NSMCE4A,SS18L2}
\E{MRPL14}{ILF2,SS18L2}
\E{RPF2}{ILF2,RAN,WDR61,SS18L2,GPN1}
\E{DNAJC8}{ILF2,RAN,ADSL}
\E{MRPL24}{ADSL,WDR61,RAN}
\E{GPN1}{NSMCE4A,RPA3,ADSL}
\E{PSMC2}{TMEM126A,NIFK,CKS1B,KIF20B}
\E{TCEB1}{NIFK,NSMCE4A,CKS1B,RPA3}
\M{\coreG}{5}{4}
\end{pgfonlayer}
\end{scope}

%================ H
\def\pfx{H}
\begin{scope}[shift={(1064,2230)},xscale=0.6786,yscale=0.4267]
\node[panel] at (148,140) {H};
\N{CKS2}{475,178}\N{ROMO1}{707,215}\N{GNL3}{808,245}\N{TOMM7}{603,283}
\N{RPS6}{912,283}\N{RPL39}{482,373}\N{CHCHD2}{320,458}\N{CCT2}{425,458}
\N{SS18L2}{653,473}\N{COX7C}{918,447}\N{NHP2}{1242,520}\N{MRPL32}{585,580}
\N{MRPL14}{785,572}\N{RPS13}{1013,587}\N{ATP5O}{357,612}\N{MRPL36}{248,658}
\N{C1QBP}{1120,650}\N{RPS8}{928,658}\N{MRPS24}{1285,685}\N{MRPS15}{1395,680}
\N{NDUFB2}{518,685}\N{RPL35A}{700,708}\N{MRPL11}{833,730}\N{TMEM258}{355,792}
\N{RPSA}{906,830}\N{GTF3A}{1012,815}\N{ADSL}{1167,815}
\N{RPLP0}{1355,843}\N{RPL24}{828,858}\N{EEF1B2}{543,922}\N{RPL4}{960,925}
\N{RPS5}{1103,950}\N{RPS3}{1240,935}\N{SNRPD2}{773,970}\N{MRPL13}{183,995}
\N{UQCRQ}{285,975}\N{COX6C}{390,1000}\N{ICT1}{487,1045}\N{RPL27}{665,1030}
\N{FARS2}{1338,1025}\N{FAU}{822,1075}\N{RSL24D1}{945,1055}\N{RPL26L1}{225,1140}
\N{FBL}{1168,1120}\N{MRPS26}{1422,1155}\N{EEF1E1}{370,1195}\N{HINT1}{527,1202}
\N{MRPS23}{625,1162}\N{SLIRP}{755,1232}\N{C19orf70}{906,1237}\N{NDUFA4}{250,1335}
\N{SSR2}{450,1357}\N{RPS19}{1218,1333}\N{HIST1H4C}{1345,1340}\N{RPL18A}{1098,1398}
\N{RPS17}{655,1400}\N{RPS15A}{543,1488}
\N[fill=hubcol]{RPL35}{642,822}
\def\coreH{SS18L2,MRPL32,MRPL14,ATP5O,MRPL36,NDUFB2,RPL35A,MRPL11,TMEM258,RPSA,RPL24,EEF1B2,RPL4,SNRPD2,MRPL13,UQCRQ,COX6C,ICT1,RPL27,FAU,RSL24D1,RPL26L1,EEF1E1,HINT1,MRPS23,SLIRP,NDUFA4,RPS17,RPS15A,RPS8}
\begin{pgfonlayer}{bg}
\E{RPL35}{\coreH,TOMM7,RPL39,CHCHD2,CCT2,COX7C,GNL3}
\E{CKS2}{MRPL32}
\E{ROMO1}{RPL35A}
\E{GNL3}{SS18L2,MRPL32,MRPL14,NDUFB2,RPL35A,MRPL11}
\E{TOMM7}{MRPL32,SS18L2,COX7C,NDUFB2,MRPL14,RPL35A}
\E{RPS6}{RPS13,MRPL11}
\E{RPL39}{COX7C,MRPL32,SS18L2,NDUFB2}
\E{CHCHD2}{NDUFB2}
\E{CCT2}{SS18L2,MRPL32,NDUFB2,EEF1B2}
\E{COX7C}{SS18L2,MRPL14,MRPL32,NDUFB2,RPL35A,MRPL11,RPS8,RPL24,EEF1B2,SNRPD2,ATP5O,RPS13}
\E{NHP2}{ADSL,RPS5}
\E{RPS13}{RPS5,GTF3A,C1QBP,RPL4,RPS8,MRPL14,RPL24}
\E{C1QBP}{ADSL,RPS5,GTF3A,MRPS24,RPLP0,RPS8,RPL4,FBL}
\E{MRPS24}{ADSL,RPS5}
\E{MRPS15}{ADSL,RPS5,RPS3}
\E{RPLP0}{ADSL,RPS5,RPS3}
\E{ADSL}{RPS5,GTF3A,RPS3,FBL,RPL4,RPSA,RPS8}
\E{RPS5}{GTF3A,RPL4,RPS3,FBL,FARS2,RPL18A,RPS19,HIST1H4C,MRPS26,RPSA,RPL24,RSL24D1,C19orf70,RPS8}
\E{RPS3}{FARS2,FBL}
\E{RPL18A}{RPS19}
\E{FBL}{RPS19}
\E{GTF3A}{RPL4,RSL24D1,RPSA}
\E{MRPL13}{UQCRQ,COX6C,TMEM258}
\E{NDUFA4}{EEF1E1,HINT1,SLIRP,RPL26L1,COX6C}
\E{SSR2}{HINT1}
\E{RPS15A}{RPS17,SLIRP,MRPS23}
\E{RPS17}{SLIRP,MRPS23,RPL27}
\E{C19orf70}{FAU}
\M{\coreH}{3}{0}
\end{pgfonlayer}
\end{scope}
\end{tikzpicture}
\end{document}
